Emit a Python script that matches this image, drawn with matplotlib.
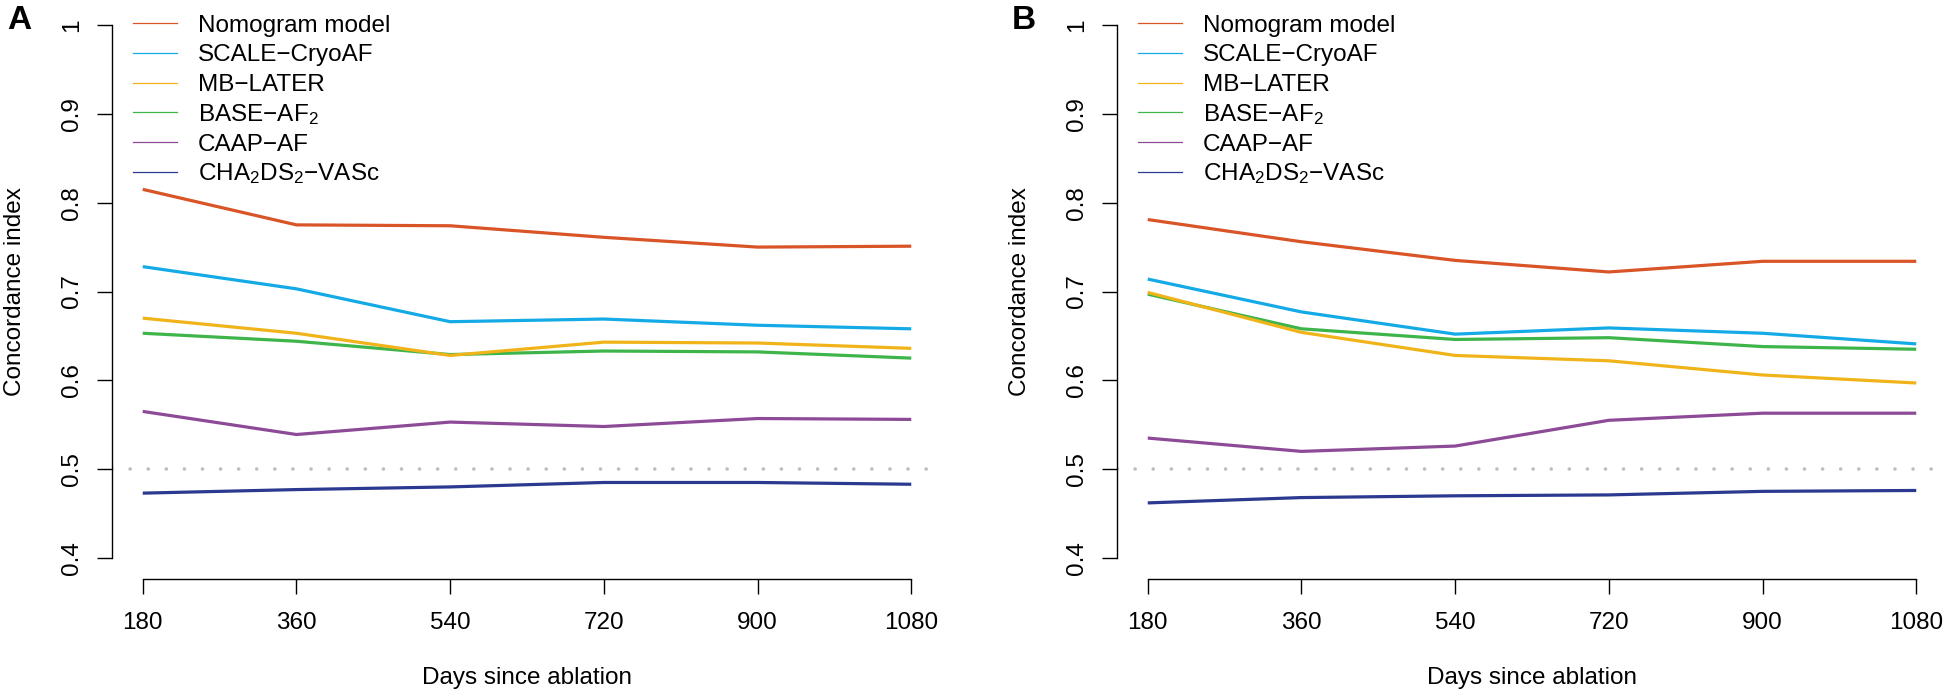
import matplotlib
matplotlib.use('Agg')
import matplotlib.pyplot as plt

plt.rcParams['font.family'] = ['Liberation Sans', 'DejaVu Sans']
plt.rcParams['mathtext.fontset'] = 'custom'
plt.rcParams['mathtext.rm'] = 'Liberation Sans'
plt.rcParams['mathtext.default'] = 'regular'

# data
days = [180, 360, 540, 720, 900, 1080]
models = ['Nomogram model', 'SCALE\u2212CryoAF', 'MB\u2212LATER', 'BASE\u2212AF$_2$',
          'CAAP\u2212AF', 'CHA$_2$DS$_2$\u2212VASc']
colors = ['#D95427', '#14AAE6', '#F0B41A', '#3DB54A', '#8D4B97', '#2B3990']

a_nomogram = [0.815, 0.775, 0.774, 0.761, 0.750, 0.751]
a_scale = [0.728, 0.703, 0.666, 0.669, 0.662, 0.658]
a_mb = [0.670, 0.653, 0.628, 0.643, 0.642, 0.636]
a_base = [0.653, 0.644, 0.629, 0.633, 0.632, 0.625]
a_caap = [0.565, 0.539, 0.553, 0.548, 0.557, 0.556]
a_cha = [0.473, 0.477, 0.480, 0.485, 0.485, 0.483]

b_nomogram = [0.781, 0.756, 0.735, 0.722, 0.734, 0.734]
b_scale = [0.714, 0.677, 0.652, 0.659, 0.653, 0.641]
b_mb = [0.699, 0.654, 0.628, 0.622, 0.606, 0.597]
b_base = [0.697, 0.658, 0.646, 0.648, 0.638, 0.635]
b_caap = [0.535, 0.520, 0.526, 0.555, 0.563, 0.563]
b_cha = [0.462, 0.468, 0.470, 0.471, 0.475, 0.476]

yticks = [0.4, 0.5, 0.6, 0.7, 0.8, 0.9, 1.0]
ytick_labels = ['0.4', '0.5', '0.6', '0.7', '0.8', '0.9', '1']

W, H = 1950, 699
fig = plt.figure(figsize=(W / 100, H / 100), dpi=100)

FS = 17.5


def draw_panel(left_px, series, letter):
    ax = fig.add_axes([left_px / W, (H - 579.3) / H, 830 / W, 575.6 / H])
    ax.set_xlim(144, 1116)
    ax.set_ylim(0.376, 1.024)

    ax.axhline(0.5, color='#BEBEBE', lw=2.6, linestyle=(0, (0.01, 5.0)),
               dash_capstyle='round', zorder=1)
    # drawn in reverse so the top entries sit above
    for vals, col in list(zip(series, colors))[::-1]:
        ax.plot(days, vals, color=col, lw=2.3, solid_capstyle='butt', zorder=2)

    for s in ['top', 'right']:
        ax.spines[s].set_visible(False)
    ax.spines['left'].set_bounds(0.4, 1.0)
    ax.spines['bottom'].set_bounds(180, 1080)
    for s in ['left', 'bottom']:
        ax.spines[s].set_linewidth(1.0)

    ax.set_xticks(days)
    ax.set_xticklabels([str(d) for d in days], fontsize=FS)
    ax.set_yticks(yticks)
    ax.set_yticklabels(ytick_labels, fontsize=FS, rotation=90, va='center')
    ax.tick_params(axis='x', length=10.8, width=1.0, pad=13)
    ax.tick_params(axis='y', length=10.8, width=1.0, pad=10)

    ax.set_xlabel('Days since ablation', fontsize=FS)
    ax.xaxis.set_label_coords(0.5, -0.153)
    ax.set_ylabel('Concordance index', fontsize=FS)
    ax.yaxis.set_label_coords(-0.104, 0.5)

    # legend drawn by hand to match the spacing
    y0 = 0.9665
    step = 0.0518
    for i, (name, col) in enumerate(zip(models, colors)):
        y = y0 - i * step
        ax.plot([0.0253, 0.0783], [y, y], color=col, lw=0.9,
                transform=ax.transAxes, clip_on=False)
        ax.text(0.1036, y - 0.0148, name, fontsize=FS, va='baseline', ha='left',
                transform=ax.transAxes)

    fig.text((left_px - 105) / W, 1 - 5 / H, letter, fontsize=24,
             fontweight='bold', va='top', ha='left')
    return ax


draw_panel(112, [a_nomogram, a_scale, a_mb, a_base, a_caap, a_cha], 'A')
draw_panel(1117, [b_nomogram, b_scale, b_mb, b_base, b_caap, b_cha], 'B')

fig.savefig('out.png', dpi=100)
